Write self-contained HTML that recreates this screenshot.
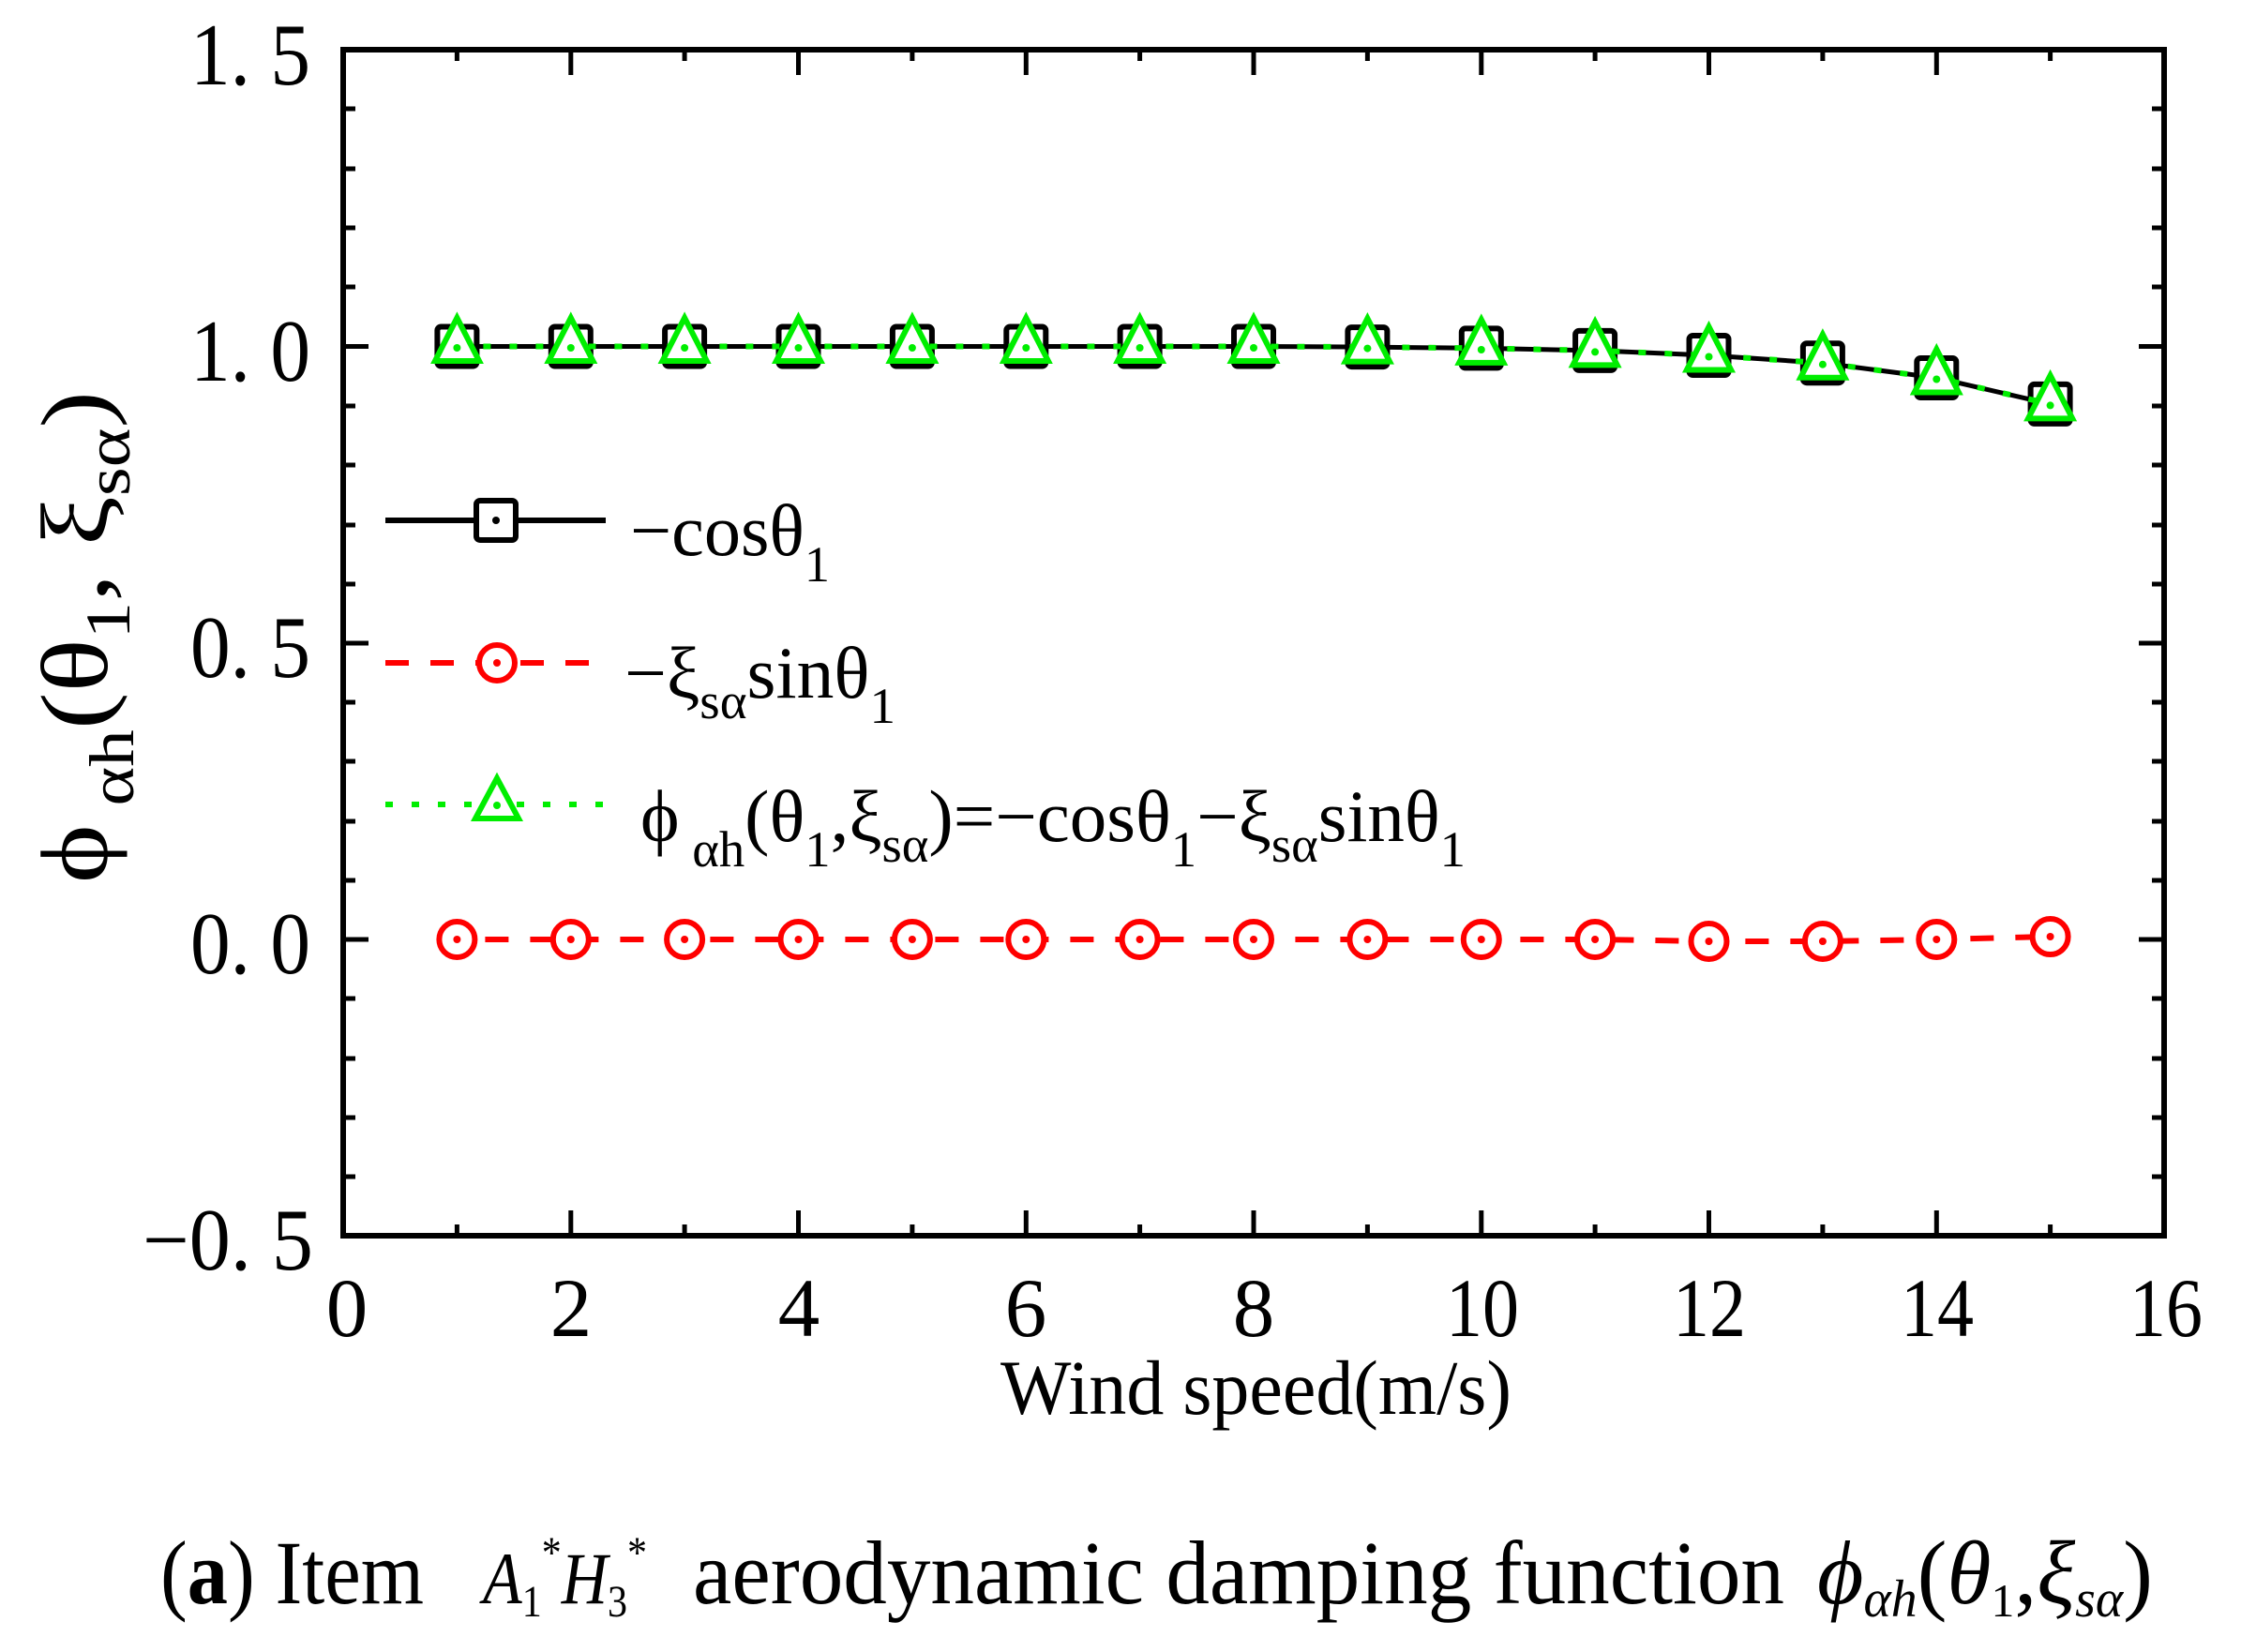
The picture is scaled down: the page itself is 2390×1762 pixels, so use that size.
<!DOCTYPE html>
<html><head><meta charset="utf-8"><style>html,body{margin:0;padding:0;background:#fff}svg{display:block}</style></head>
<body>
<svg xmlns="http://www.w3.org/2000/svg" width="2390" height="1762" viewBox="0 0 2390 1762" font-family="Liberation Serif, serif">
<rect width="2390" height="1762" fill="#fff"/>
<g stroke="#000" stroke-width="5" fill="none">
<rect x="366" y="53" width="1942" height="1265" stroke-width="6"/>
<path d="M366 53h27M366 116h13M366 180h13M366 243h13M366 306h13M366 369.5h27M366 433h13M366 496h13M366 560h13M366 623h13M366 686h27M366 749h13M366 812h13M366 876h13M366 939h13M366 1002h27M366 1065h13M366 1129h13M366 1192h13M366 1255h13
M2308 53h-27M2308 116h-13M2308 180h-13M2308 243h-13M2308 306h-13M2308 369.5h-27M2308 433h-13M2308 496h-13M2308 560h-13M2308 623h-13M2308 686h-27M2308 749h-13M2308 812h-13M2308 876h-13M2308 939h-13M2308 1002h-27M2308 1065h-13M2308 1129h-13M2308 1192h-13M2308 1255h-13"/>
<path d="M487.4 1318v-12M608.8 1318v-27M730.1 1318v-12M851.5 1318v-27M972.9 1318v-12M1094.3 1318v-27M1215.6 1318v-12M1337 1318v-27M1458.4 1318v-12M1579.8 1318v-27M1701.1 1318v-12M1822.5 1318v-27M1943.9 1318v-12M2065.3 1318v-27M2186.6 1318v-12
M487.4 53v12M608.8 53v27M730.1 53v12M851.5 53v27M972.9 53v12M1094.3 53v27M1215.6 53v12M1337 53v27M1458.4 53v12M1579.8 53v27M1701.1 53v12M1822.5 53v27M1943.9 53v12M2065.3 53v27M2186.6 53v12"/>
</g>
<g font-size="94" text-anchor="end" fill="#000">
<text x="331" y="90" textLength="128" lengthAdjust="spacingAndGlyphs">1. 5</text>
<text x="331" y="406" textLength="128" lengthAdjust="spacingAndGlyphs">1. 0</text>
<text x="331" y="722" textLength="128" lengthAdjust="spacingAndGlyphs">0. 5</text>
<text x="331" y="1038" textLength="128" lengthAdjust="spacingAndGlyphs">0. 0</text>
<text x="334" y="1354" textLength="182" lengthAdjust="spacingAndGlyphs">−0. 5</text>
</g>
<g font-size="89" text-anchor="middle" fill="#000">
<text x="370" y="1425">0</text><text x="609" y="1425">2</text><text x="852" y="1425">4</text><text x="1094" y="1425">6</text><text x="1337" y="1425">8</text>
<text x="1581" y="1425" textLength="78" lengthAdjust="spacingAndGlyphs">10</text>
<text x="1823" y="1425" textLength="78" lengthAdjust="spacingAndGlyphs">12</text>
<text x="2066" y="1425" textLength="78" lengthAdjust="spacingAndGlyphs">14</text>
<text x="2310" y="1425" textLength="78" lengthAdjust="spacingAndGlyphs">16</text>
</g>
<text x="1067" y="1508" font-size="83" textLength="545" lengthAdjust="spacingAndGlyphs">Wind speed(m/s)</text>
<text transform="translate(114,942) rotate(-90)" font-size="102" textLength="525" lengthAdjust="spacingAndGlyphs">ϕ<tspan font-size="68" dy="28"> αh</tspan><tspan dy="-28">(θ</tspan><tspan font-size="68" dy="24">1</tspan><tspan dy="-24">, ξ</tspan><tspan font-size="68" dy="24">sα</tspan><tspan dy="-24">)</tspan></text>

<polyline fill="none" stroke="#000" stroke-width="5" points="487.4,369.5 608.8,369.5 730.1,369.5 851.5,369.5 972.9,369.5 1094.3,369.5 1215.6,369.5 1337,369.5 1458.4,370.1 1579.8,371.4 1701.1,373.9 1822.5,379 1943.9,387.2 2065.3,403 2186.6,430.9"/>
<g fill="#fff" stroke="#000" stroke-width="6">
<rect x="466.4" y="348.5" width="42" height="42" rx="4"/><rect x="587.8" y="348.5" width="42" height="42" rx="4"/><rect x="709.1" y="348.5" width="42" height="42" rx="4"/><rect x="830.5" y="348.5" width="42" height="42" rx="4"/><rect x="951.9" y="348.5" width="42" height="42" rx="4"/><rect x="1073.3" y="348.5" width="42" height="42" rx="4"/><rect x="1194.6" y="348.5" width="42" height="42" rx="4"/><rect x="1316" y="348.5" width="42" height="42" rx="4"/><rect x="1437.4" y="349.1" width="42" height="42" rx="4"/><rect x="1558.8" y="350.4" width="42" height="42" rx="4"/><rect x="1680.1" y="352.9" width="42" height="42" rx="4"/><rect x="1801.5" y="358" width="42" height="42" rx="4"/><rect x="1922.9" y="366.2" width="42" height="42" rx="4"/><rect x="2044.3" y="382" width="42" height="42" rx="4"/><rect x="2165.6" y="409.9" width="42" height="42" rx="4"/>
</g>
<polyline fill="none" stroke="#00ee00" stroke-width="6" stroke-dasharray="8 20" points="487.4,369.5 608.8,369.5 730.1,369.5 851.5,369.5 972.9,369.5 1094.3,369.5 1215.6,369.5 1337,369.5 1458.4,370.1 1579.8,371.4 1701.1,373.9 1822.5,379 1943.9,387.2 2065.3,403 2186.6,430.9"/>
<g fill="#fff" stroke="#00ee00" stroke-width="6">
<polygon points="487.4,339 511,385 464,385"/><polygon points="608.8,339 632.4,385 585.2,385"/><polygon points="730.1,339 753.7,385 706.5,385"/><polygon points="851.5,339 875.1,385 827.9,385"/><polygon points="972.9,339 996.5,385 949.3,385"/><polygon points="1094.3,339 1117.9,385 1070.7,385"/><polygon points="1215.6,339 1239.2,385 1192,385"/><polygon points="1337,339 1360.6,385 1313.4,385"/><polygon points="1458.4,339.6 1482,385.6 1434.8,385.6"/><polygon points="1579.8,340.9 1603.4,386.9 1556.2,386.9"/><polygon points="1701.1,343.4 1724.7,389.4 1677.5,389.4"/><polygon points="1822.5,348.5 1846.1,394.5 1798.9,394.5"/><polygon points="1943.9,356.7 1967.5,402.7 1920.3,402.7"/><polygon points="2065.3,372.5 2088.9,418.5 2041.7,418.5"/><polygon points="2186.6,400.4 2210.2,446.4 2163,446.4"/>
</g>
<g fill="#00ee00">
<circle cx="487.4" cy="371" r="4"/><circle cx="608.8" cy="371" r="4"/><circle cx="730.1" cy="371" r="4"/><circle cx="851.5" cy="371" r="4"/><circle cx="972.9" cy="371" r="4"/><circle cx="1094.3" cy="371" r="4"/><circle cx="1215.6" cy="371" r="4"/><circle cx="1337" cy="371" r="4"/><circle cx="1458.4" cy="371.6" r="4"/><circle cx="1579.8" cy="373" r="4"/><circle cx="1701.1" cy="375.4" r="4"/><circle cx="1822.5" cy="380.5" r="4"/><circle cx="1943.9" cy="388.7" r="4"/><circle cx="2065.3" cy="404.5" r="4"/><circle cx="2186.6" cy="432.4" r="4"/>
</g>
<polyline fill="none" stroke="#ff0000" stroke-width="6" stroke-dasharray="25 23" stroke-dashoffset="-30" points="487.4,1002 608.8,1002 730.1,1002 851.5,1002 972.9,1002 1094.3,1002 1215.6,1002 1337,1002 1458.4,1002 1579.8,1002 1701.1,1002 1822.5,1004 1943.9,1004 2065.3,1002 2186.6,999"/>
<g fill="#fff" stroke="#ff0000" stroke-width="6">
<circle cx="487.4" cy="1002" r="19"/><circle cx="608.8" cy="1002" r="19"/><circle cx="730.1" cy="1002" r="19"/><circle cx="851.5" cy="1002" r="19"/><circle cx="972.9" cy="1002" r="19"/><circle cx="1094.3" cy="1002" r="19"/><circle cx="1215.6" cy="1002" r="19"/><circle cx="1337" cy="1002" r="19"/><circle cx="1458.4" cy="1002" r="19"/><circle cx="1579.8" cy="1002" r="19"/><circle cx="1701.1" cy="1002" r="19"/><circle cx="1822.5" cy="1004" r="19"/><circle cx="1943.9" cy="1004" r="19"/><circle cx="2065.3" cy="1002" r="19"/><circle cx="2186.6" cy="999" r="19"/>
</g>
<g fill="#ff0000">
<circle cx="487.4" cy="1002" r="4"/><circle cx="608.8" cy="1002" r="4"/><circle cx="730.1" cy="1002" r="4"/><circle cx="851.5" cy="1002" r="4"/><circle cx="972.9" cy="1002" r="4"/><circle cx="1094.3" cy="1002" r="4"/><circle cx="1215.6" cy="1002" r="4"/><circle cx="1337" cy="1002" r="4"/><circle cx="1458.4" cy="1002" r="4"/><circle cx="1579.8" cy="1002" r="4"/><circle cx="1701.1" cy="1002" r="4"/><circle cx="1822.5" cy="1004" r="4"/><circle cx="1943.9" cy="1004" r="4"/><circle cx="2065.3" cy="1002" r="4"/><circle cx="2186.6" cy="999" r="4"/>
</g>

<line x1="411" y1="555" x2="646" y2="555" stroke="#000" stroke-width="6"/>
<rect x="508" y="534" width="42" height="42" rx="4" fill="#fff" stroke="#000" stroke-width="6"/>
<circle cx="529" cy="555" r="4" fill="#000"/>
<line x1="411" y1="707" x2="640" y2="707" stroke="#ff0000" stroke-width="6" stroke-dasharray="25 23"/>
<circle cx="530" cy="707" r="19" fill="#fff" stroke="#ff0000" stroke-width="6"/>
<circle cx="530" cy="707" r="4" fill="#ff0000"/>
<line x1="411" y1="858" x2="646" y2="858" stroke="#00ee00" stroke-width="6" stroke-dasharray="8 20"/>
<polygon points="530,830 553,873 507,873" fill="#fff" stroke="#00ee00" stroke-width="6"/>
<circle cx="530" cy="859" r="4" fill="#00ee00"/>

<g font-size="78" fill="#000">
<text x="672" y="592" textLength="213" lengthAdjust="spacingAndGlyphs">−cosθ<tspan font-size="54" dy="28">1</tspan></text>
<text x="666" y="744" textLength="289" lengthAdjust="spacingAndGlyphs">−ξ<tspan font-size="54" dy="22">sα</tspan><tspan dy="-22">sinθ</tspan><tspan font-size="54" dy="27">1</tspan></text>
<text x="683" y="897" textLength="880" lengthAdjust="spacingAndGlyphs">ϕ<tspan font-size="54" dy="27"> αh</tspan><tspan dy="-27">(θ</tspan><tspan font-size="54" dy="27">1</tspan><tspan dy="-27">,ξ</tspan><tspan font-size="54" dy="22">sα</tspan><tspan dy="-22">)=−cosθ</tspan><tspan font-size="54" dy="27">1</tspan><tspan dy="-27">−ξ</tspan><tspan font-size="54" dy="22">sα</tspan><tspan dy="-22">sinθ</tspan><tspan font-size="54" dy="27">1</tspan></text>
</g>

<g font-size="96" fill="#000">
<text x="171" y="1710" textLength="281" lengthAdjust="spacingAndGlyphs">(<tspan font-weight="bold">a</tspan>) Item</text>
<text x="515" y="1710" font-style="italic" font-size="78" textLength="175" lengthAdjust="spacingAndGlyphs">A<tspan font-size="48" font-style="normal" dy="14">1</tspan><tspan font-size="48" font-style="normal" dy="-52">*</tspan><tspan dy="38">H</tspan><tspan font-size="48" font-style="normal" dy="14">3</tspan><tspan font-size="48" font-style="normal" dy="-52">*</tspan></text>
<text x="739" y="1710" textLength="1164" lengthAdjust="spacingAndGlyphs">aerodynamic damping function</text>
<text x="1938" y="1710" textLength="358" lengthAdjust="spacingAndGlyphs"><tspan font-style="italic">ϕ</tspan><tspan font-style="italic" font-size="56" dy="14">αh</tspan><tspan dy="-14">(</tspan><tspan font-style="italic">θ</tspan><tspan font-size="50" dy="14">1</tspan><tspan dy="-14">,</tspan><tspan font-style="italic">ξ</tspan><tspan font-style="italic" font-size="56" dy="14">sα</tspan><tspan dy="-14">)</tspan></text>
</g>
</svg>
</body></html>
